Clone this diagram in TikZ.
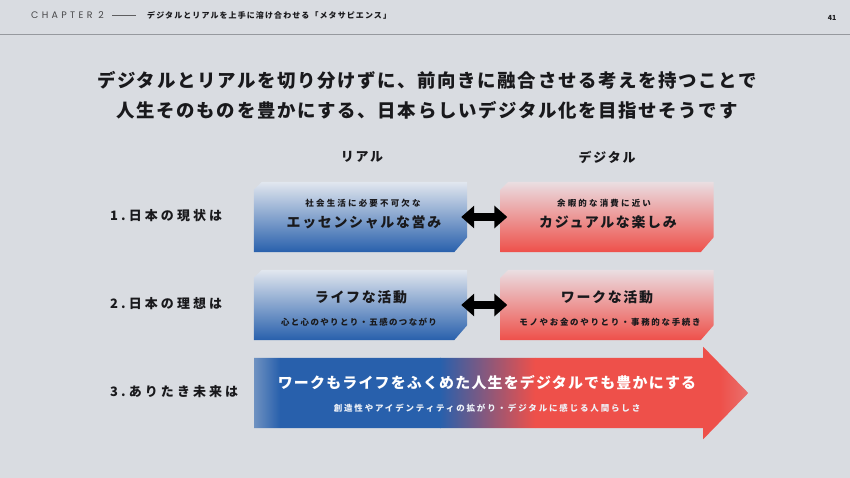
\documentclass[tikz,border=0pt]{standalone}
\usepackage{fontspec}
\setmainfont{Noto Sans CJK JP}
\newfontfamily\hdrfont{Poppins}
\usetikzlibrary{arrows.meta,calc}
\definecolor{bg}{RGB}{217,220,225}
\definecolor{rule}{RGB}{150,153,158}
\definecolor{ink}{RGB}{25,25,28}
\definecolor{bblue}{RGB}{40,96,172}
\definecolor{bbluetop}{RGB}{226,231,239}
\definecolor{rred}{RGB}{238,80,74}
\definecolor{rredtop}{RGB}{234,222,226}
\newcommand{\fs}[2]{\fontsize{#1}{#2}\selectfont}
\newcommand{\lsp}[1]{\addfontfeature{LetterSpace=#1}}
\tikzset{
  boxnode/.style={draw=none,minimum width=213bp,minimum height=70bp,inner sep=0pt},
  bluebox/.style={top color=bbluetop,bottom color=bblue},
  redbox/.style={top color=rredtop,bottom color=rred},
  bigtxt/.style={text=ink,font=\fs{14}{16}\bfseries\lsp{12},inner sep=0pt},
  smalltxt/.style={text=ink,font=\fs{8.5}{10}\bfseries\lsp{26},inner sep=0pt},
  rowlabel/.style={text=ink,font=\fs{13}{15}\bfseries\lsp{24},inner sep=0pt,anchor=west},
  colhead/.style={text=ink,font=\fs{13}{15}\bfseries\lsp{14},inner sep=0pt},
  dblarrow/.style={line width=8bp,draw=black,{Triangle[length=13bp,width=22bp]}-{Triangle[length=13bp,width=22bp]},shorten <=-6bp,shorten >=-7bp},
}
\begin{document}
\begin{tikzpicture}[x=1bp,y=-1bp]
\fill[bg] (0,0) rectangle (850,478);
\useasboundingbox (0,0) rectangle (850,478);
% header
\draw[rule,line width=1bp] (0,35) -- (850,35);
\node[anchor=west,inner sep=0pt,text=ink!80,font=\hdrfont\fs{9.5}{11}\addfontfeature{LetterSpace=35}] (chap) at (31,15) {CHAPTER 2};
\coordinate (dashA) at (112,15);
\coordinate (dashB) at (136,15);
\draw[ink!70,line width=0.5bp] (dashA) -- (dashB);
\node[anchor=west,inner sep=0pt,text=ink,font=\fs{8}{9}\bfseries\lsp{14}] (sub) at (147,15) {デジタルとリアルを上手に溶け合わせる「メタサピエンス」};
\node[inner sep=0pt,text=ink,font=\fs{7}{8}\bfseries] (page) at (832,18) {41};
% title
\node[inner sep=0pt,text=ink,font=\fs{18.5}{22}\bfseries\lsp{9}] (title1) at (427,80) {デジタルとリアルを切り分けずに、前向きに融合させる考えを持つことで};
\node[inner sep=0pt,text=ink,font=\fs{18.5}{22}\bfseries\lsp{9}] (title2) at (427,110) {人生そのものを豊かにする、日本らしいデジタル化を目指せそうです};
% column heads
\node[colhead] (hreal) at (362,157) {リアル};
\node[colhead] (hdig) at (607,157) {デジタル};
% row labels
\node[rowlabel] (l1) at (110,216) {1.日本の現状は};
\node[rowlabel] (l2) at (110,304) {2.日本の理想は};
\node[rowlabel] (l3) at (110,392) {3.ありたき未来は};
% boxes
\node[boxnode] (b1) at (360.5,217) {};
\node[boxnode] (r1) at (607,217) {};
\node[boxnode] (b2) at (360.5,305) {};
\node[boxnode] (r2) at (607,305) {};
\foreach \n/\s in {b1/bluebox,r1/redbox,b2/bluebox,r2/redbox}{
  \shade[\s] ($(\n.north west)+(0,8)$) -- ($(\n.north west)+(8,0)$) -- (\n.north east)
    -- ($(\n.south east)+(0,-15)$) -- ($(\n.south east)+(-13,0)$) -- (\n.south west) -- cycle;
}
\node[smalltxt] (b1s) at (363,203) {社会生活に必要不可欠な};
\node[bigtxt] (b1t) at (364,222) {エッセンシャルな営み};
\node[smalltxt] (r1s) at (604,203) {余暇的な消費に近い};
\node[bigtxt] (r1t) at (608,222) {カジュアルな楽しみ};
\node[bigtxt] (b2t) at (361,297) {ライフな活動};
\node[smalltxt,font=\fs{8.5}{10}\bfseries\lsp{16}] (b2s) at (359,322) {心と心のやりとり・五感のつながり};
\node[bigtxt] (r2t) at (607,297) {ワークな活動};
\node[smalltxt,font=\fs{8.5}{10}\bfseries\lsp{20}] (r2s) at (610,322) {モノやお金のやりとり・事務的な手続き};
\draw[dblarrow] (b1.east) -- (r1.west);
\draw[dblarrow] (b2.east) -- (r2.west);
% row 3 arrow
\node[draw=none,minimum width=449bp,minimum height=70bp,inner sep=0pt] (a3) at (478.5,393) {};
\begin{scope}
  \clip (a3.north west) -- (a3.north east) -- ($(a3.north east)+(0,-11)$) -- ($(a3.east)+(45,0)$)
    -- ($(a3.south east)+(0,11)$) -- (a3.south east) -- (a3.south west) -- cycle;
  \shade[left color=bblue!60!bg,right color=bblue] (254,340) rectangle (280,440);
  \fill[bblue] (279.5,340) rectangle (440.5,440);
  \shade[left color=bblue,right color=rred] (440,340) rectangle (535,440);
  \fill[rred] (534.5,340) rectangle (720.5,440);
  \shade[left color=rred,right color=rred!75!bg] (720,340) rectangle (750,440);
\end{scope}
\node[inner sep=0pt,text=white,font=\fs{15}{18}\bfseries\lsp{8}] (a3t) at (487,383) {ワークもライフをふくめた人生をデジタルでも豊かにする};
\node[inner sep=0pt,text=white!92!bblue,font=\fs{8.5}{10}\bfseries\lsp{22}] (a3s) at (487,408) {創造性やアイデンティティの拡がり・デジタルに感じる人間らしさ};
\end{tikzpicture}
\end{document}
